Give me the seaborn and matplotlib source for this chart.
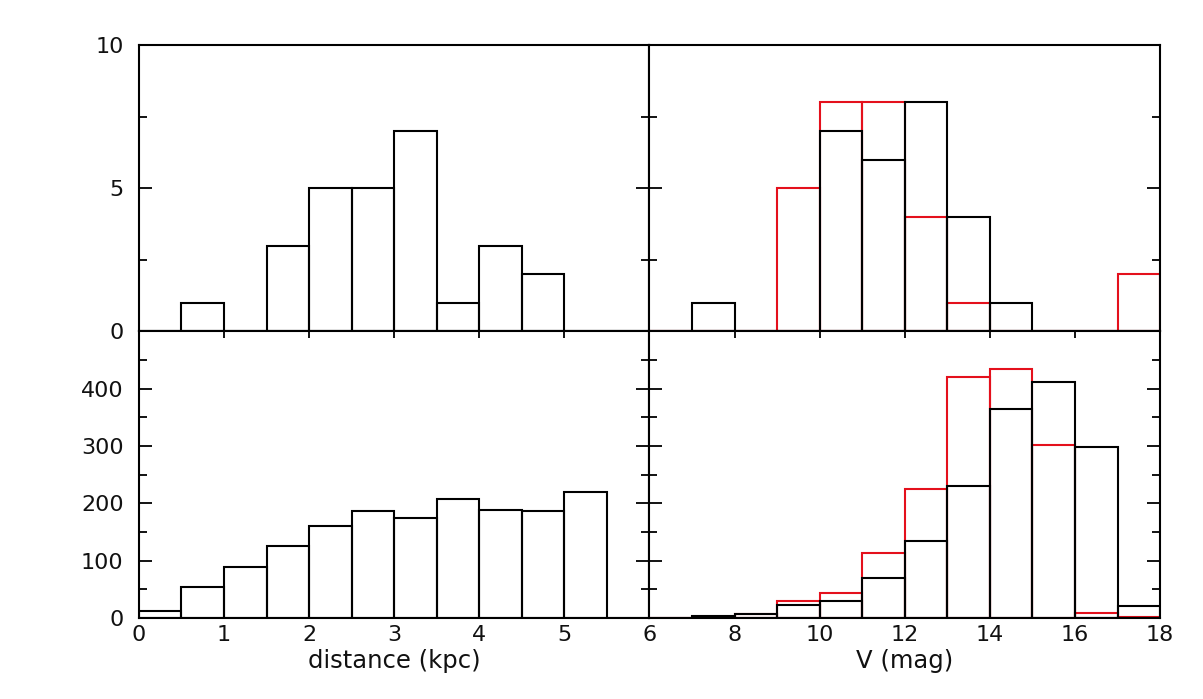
import numpy as np
import pandas as pd
import matplotlib
matplotlib.use("Agg")
import matplotlib.pyplot as plt
import seaborn as sns
from matplotlib.ticker import MultipleLocator, NullLocator

# ---- data ----
dist_edges = [0, 0.5, 1, 1.5, 2, 2.5, 3, 3.5, 4, 4.5, 5, 5.5, 6]
dist_top_counts = [0, 1, 0, 3, 5, 5, 7, 1, 3, 2, 0, 0]
dist_bot_counts = [12, 54, 89, 125, 160, 186, 175, 207, 189, 186, 219, 0]

v_edges = [6, 7, 8, 9, 10, 11, 12, 13, 14, 15, 16, 17, 18]
v_top_black = [0, 1, 0, 0, 7, 6, 8, 4, 1, 0, 0, 0]
v_top_red = [0, 0, 0, 5, 8, 8, 4, 1, 0, 0, 0, 2]
v_bot_black = [0, 3, 6, 23, 30, 69, 134, 231, 364, 412, 299, 21]
v_bot_red = [0, 0, 7, 30, 44, 113, 225, 420, 435, 302, 9, 2]

dist_ticks = [0, 1, 2, 3, 4, 5, 6]
v_ticks = [8, 10, 12, 14, 16, 18]
top_yticks = [0, 5, 10]
bot_yticks = [0, 100, 200, 300, 400]

dist_label = "distance (kpc)"
v_label = "V (mag)"


def centers(edges):
    e = np.asarray(edges, dtype=float)
    return (e[:-1] + e[1:]) / 2


sns.set_style("ticks")
plt.rcParams["font.family"] = ["DejaVu Sans"]
plt.rcParams["font.size"] = 15
plt.rcParams["text.color"] = "#111111"
plt.rcParams["axes.edgecolor"] = "black"
plt.rcParams["xtick.color"] = "black"
plt.rcParams["ytick.color"] = "black"
plt.rcParams["xtick.labelcolor"] = "#111111"
plt.rcParams["ytick.labelcolor"] = "#111111"
plt.rcParams["axes.labelcolor"] = "#111111"

fig = plt.figure(figsize=(12.03, 6.99), dpi=100)
gs = fig.add_gridspec(2, 2, left=0.1155, right=0.9643, top=0.9356, bottom=0.116,
                      wspace=0, hspace=0)
ax_tl = fig.add_subplot(gs[0, 0])
ax_tr = fig.add_subplot(gs[0, 1])
ax_bl = fig.add_subplot(gs[1, 0])
ax_br = fig.add_subplot(gs[1, 1])

lw = 1.5
red = "#e4101c"


def hist(ax, edges, counts, color):
    df = pd.DataFrame({"x": centers(edges), "w": counts})
    sns.histplot(data=df, x="x", weights="w", bins=edges, element="bars",
                 fill=False, color=color, linewidth=lw, ax=ax)


hist(ax_tl, dist_edges, dist_top_counts, "black")
hist(ax_bl, dist_edges, dist_bot_counts, "black")
hist(ax_tr, v_edges, v_top_red, red)
hist(ax_tr, v_edges, v_top_black, "black")
hist(ax_br, v_edges, v_bot_red, red)
hist(ax_br, v_edges, v_bot_black, "black")

for ax in (ax_tl, ax_bl):
    ax.set_xlim(0, 6)
    ax.set_xticks(dist_ticks)
for ax in (ax_tr, ax_br):
    ax.set_xlim(6, 18)
    ax.set_xticks(v_ticks)
for ax in (ax_tl, ax_tr):
    ax.set_ylim(0, 10)
    ax.set_yticks(top_yticks)
    ax.yaxis.set_minor_locator(MultipleLocator(2.5))
for ax in (ax_bl, ax_br):
    ax.set_ylim(0, 500)
    ax.set_yticks(bot_yticks)
    ax.yaxis.set_minor_locator(MultipleLocator(50))

for ax in (ax_tl, ax_tr, ax_bl, ax_br):
    ax.xaxis.set_minor_locator(NullLocator())
    ax.tick_params(axis="y", which="both", direction="in", left=True, right=True,
                   width=1.3, labelsize=16, pad=11)
    ax.tick_params(axis="y", which="major", length=9.5)
    ax.tick_params(axis="y", which="minor", length=5.5)
    ax.tick_params(axis="x", which="major", direction="in", top=True, bottom=False,
                   length=5, width=1.3, labelsize=16, pad=5)
    for s in ax.spines.values():
        s.set_visible(True)
        s.set_linewidth(1.5)
        s.set_color("black")
    ax.set_xlabel("")
    ax.set_ylabel("")

for ax in (ax_tl, ax_tr):
    ax.tick_params(axis="x", which="both", top=False, bottom=False, labelbottom=False)
ax_tr.tick_params(labelleft=False)
ax_br.tick_params(labelleft=False)

ax_bl.set_xlabel(dist_label, fontsize=17.5, labelpad=3)
ax_br.set_xlabel(v_label, fontsize=17.5, labelpad=3)

fig.savefig("out.png", dpi=100)
